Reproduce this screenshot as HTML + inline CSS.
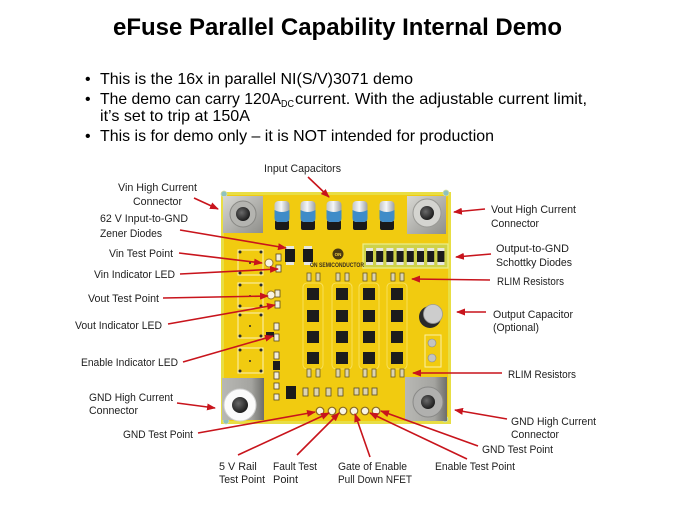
<!DOCTYPE html>
<html>
<head>
<meta charset="utf-8">
<style>
html,body{margin:0;padding:0;background:#fff;}
body{width:675px;height:506px;overflow:hidden;position:relative;}
svg{position:absolute;left:0;top:0;}
.t{font-family:"Liberation Sans",Arial,sans-serif;}
.lb{font-family:"Liberation Sans",Arial,sans-serif;font-size:10.8px;fill:#1e1e1e;}
</style>
</head>
<body>
<svg width="675" height="506" viewBox="0 0 675 506" xmlns="http://www.w3.org/2000/svg">
<defs>
  <marker id="ah" markerUnits="userSpaceOnUse" markerWidth="9" markerHeight="7" refX="8" refY="3.5" orient="auto">
    <path d="M0,0 L9,3.5 L0,7 z" fill="#c8141c"/>
  </marker>
  <linearGradient id="metal" x1="0" y1="0" x2="1" y2="1">
    <stop offset="0" stop-color="#d8d8d4"/>
    <stop offset="1" stop-color="#8e8e8a"/>
  </linearGradient>
  <linearGradient id="metal2" x1="0" y1="0" x2="1" y2="0">
    <stop offset="0" stop-color="#b8b8b4"/>
    <stop offset="0.7" stop-color="#a4a4a0"/>
    <stop offset="1" stop-color="#6e6e6a"/>
  </linearGradient>
  <radialGradient id="hole" cx="0.4" cy="0.4" r="0.6">
    <stop offset="0" stop-color="#6a6a6a"/>
    <stop offset="1" stop-color="#1e1e1e"/>
  </radialGradient>
  <linearGradient id="cap" x1="0" y1="0" x2="1" y2="0">
    <stop offset="0" stop-color="#c0c4c8"/>
    <stop offset="0.45" stop-color="#f4f6f8"/>
    <stop offset="1" stop-color="#9ca0a4"/>
  </linearGradient>
</defs>

<!-- Title -->
<text class="t" x="337.5" y="35" text-anchor="middle" font-size="24" font-weight="bold" fill="#000" textLength="449" lengthAdjust="spacingAndGlyphs">eFuse Parallel Capability Internal Demo</text>

<!-- Bullets -->
<g class="t" font-size="16" fill="#000">
  <text x="85" y="84">•</text>
  <text x="100" y="84" textLength="313" lengthAdjust="spacingAndGlyphs">This is the 16x in parallel NI(S/V)3071 demo</text>
  <text x="85" y="104">•</text>
  <text x="100" y="104" textLength="181" lengthAdjust="spacingAndGlyphs">The demo can carry 120A</text>
  <text x="281" y="107" font-size="10" textLength="13" lengthAdjust="spacingAndGlyphs">DC</text>
  <text x="295" y="104" textLength="292" lengthAdjust="spacingAndGlyphs">current.  With the adjustable current limit,</text>
  <text x="100" y="121" textLength="150" lengthAdjust="spacingAndGlyphs">it’s set to trip at 150A</text>
  <text x="85" y="141">•</text>
  <text x="100" y="141" textLength="394" lengthAdjust="spacingAndGlyphs">This is for demo only – it is NOT intended for production</text>
</g>

<!-- PCB board -->
<rect x="221" y="192" width="230" height="232" fill="#f1cb10"/>
<rect x="222.5" y="193.5" width="227" height="229" fill="none" stroke="#e8de44" stroke-width="3"/>
<!-- corner holes -->
<circle cx="224" cy="194" r="3" fill="#8ec2c0" stroke="#d8e0a0" stroke-width="0.8"/>
<circle cx="446" cy="193" r="3" fill="#8ec2c0" stroke="#d8e0a0" stroke-width="0.8"/>
<circle cx="226" cy="421" r="3" fill="#8ec2c0" stroke="#d8e0a0" stroke-width="0.8"/>
<circle cx="445" cy="419" r="3" fill="#8ec2c0" stroke="#d8e0a0" stroke-width="0.8"/>

<!-- Connectors -->
<rect x="223" y="196" width="40" height="37" fill="url(#metal)"/>
<circle cx="243" cy="214" r="13" fill="#b4b4b0" stroke="#888884" stroke-width="1"/>
<circle cx="243" cy="214" r="7" fill="url(#hole)"/>
<rect x="407" y="196" width="39" height="38" fill="url(#metal)"/>
<circle cx="427" cy="213" r="14" fill="#d4d4d0" stroke="#9a9a96" stroke-width="1"/>
<circle cx="427" cy="213" r="7" fill="url(#hole)"/>
<rect x="222" y="378" width="42" height="42" fill="url(#metal2)"/>
<circle cx="240" cy="405" r="16" fill="#fbfbfb" stroke="#d0d0d0" stroke-width="1"/>
<circle cx="240" cy="405" r="8" fill="url(#hole)"/>
<rect x="405" y="377" width="42" height="44" fill="url(#metal2)"/>
<circle cx="428" cy="402" r="15" fill="#b0b0ae" stroke="#8a8a88" stroke-width="1"/>
<circle cx="428" cy="402" r="7" fill="url(#hole)"/>

<!-- Input capacitors -->
<g>
  <g transform="translate(282,0)">
    <rect x="-7" y="220" width="14" height="10" rx="2" fill="#1a1a1a"/>
    <rect x="-7.5" y="201" width="15" height="21" rx="4" fill="url(#cap)"/>
    <path d="M-7.5,210 Q0,214 7.5,210 L7.5,218 Q7.5,222 3,222 L-3,222 Q-7.5,222 -7.5,218 z" fill="#3f8cc8"/>
  </g>
  <g transform="translate(308,0)">
    <rect x="-7" y="220" width="14" height="10" rx="2" fill="#1a1a1a"/>
    <rect x="-7.5" y="201" width="15" height="21" rx="4" fill="url(#cap)"/>
    <path d="M-7.5,210 Q0,214 7.5,210 L7.5,218 Q7.5,222 3,222 L-3,222 Q-7.5,222 -7.5,218 z" fill="#3f8cc8"/>
  </g>
  <g transform="translate(334,0)">
    <rect x="-7" y="220" width="14" height="10" rx="2" fill="#1a1a1a"/>
    <rect x="-7.5" y="201" width="15" height="21" rx="4" fill="url(#cap)"/>
    <path d="M-7.5,210 Q0,214 7.5,210 L7.5,218 Q7.5,222 3,222 L-3,222 Q-7.5,222 -7.5,218 z" fill="#3f8cc8"/>
  </g>
  <g transform="translate(360,0)">
    <rect x="-7" y="220" width="14" height="10" rx="2" fill="#1a1a1a"/>
    <rect x="-7.5" y="201" width="15" height="21" rx="4" fill="url(#cap)"/>
    <path d="M-7.5,210 Q0,214 7.5,210 L7.5,218 Q7.5,222 3,222 L-3,222 Q-7.5,222 -7.5,218 z" fill="#3f8cc8"/>
  </g>
  <g transform="translate(387,0)">
    <rect x="-7" y="220" width="14" height="10" rx="2" fill="#1a1a1a"/>
    <rect x="-7.5" y="201" width="15" height="21" rx="4" fill="url(#cap)"/>
    <path d="M-7.5,210 Q0,214 7.5,210 L7.5,218 Q7.5,222 3,222 L-3,222 Q-7.5,222 -7.5,218 z" fill="#3f8cc8"/>
  </g>
</g>

<!-- Schottky strip -->
<rect x="363" y="244" width="85" height="24" fill="#cfd248" stroke="#ecef8c" stroke-width="1.2"/>
<g fill="#1c1c1c">
  <rect x="366" y="251" width="7" height="11"/><rect x="376.2" y="251" width="7" height="11"/>
  <rect x="386.4" y="251" width="7" height="11"/><rect x="396.6" y="251" width="7" height="11"/>
  <rect x="406.8" y="251" width="7" height="11"/><rect x="417" y="251" width="7" height="11"/>
  <rect x="427.2" y="251" width="7" height="11"/><rect x="437.4" y="251" width="7" height="11"/>
</g>
<g fill="#e8e8e0">
  <rect x="366" y="248" width="7" height="3"/><rect x="376.2" y="248" width="7" height="3"/>
  <rect x="386.4" y="248" width="7" height="3"/><rect x="396.6" y="248" width="7" height="3"/>
  <rect x="406.8" y="248" width="7" height="3"/><rect x="417" y="248" width="7" height="3"/>
  <rect x="427.2" y="248" width="7" height="3"/><rect x="437.4" y="248" width="7" height="3"/>
  <rect x="366" y="262" width="7" height="3"/><rect x="376.2" y="262" width="7" height="3"/>
  <rect x="386.4" y="262" width="7" height="3"/><rect x="396.6" y="262" width="7" height="3"/>
  <rect x="406.8" y="262" width="7" height="3"/><rect x="417" y="262" width="7" height="3"/>
  <rect x="427.2" y="262" width="7" height="3"/><rect x="437.4" y="262" width="7" height="3"/>
</g>

<!-- Zener diodes -->
<rect x="285" y="249" width="10" height="13" fill="#1a1a1a"/>
<rect x="286" y="246" width="8" height="3" fill="#e8e8e0"/><rect x="286" y="262" width="8" height="3" fill="#e8e8e0"/>
<rect x="303" y="249" width="10" height="13" fill="#1a1a1a"/>
<rect x="304" y="246" width="8" height="3" fill="#e8e8e0"/><rect x="304" y="262" width="8" height="3" fill="#e8e8e0"/>

<!-- ON logo -->
<circle cx="338" cy="254" r="5.5" fill="#4b3a12"/>
<text class="t" x="338" y="256" text-anchor="middle" font-size="4.5" font-weight="bold" fill="#f0d040">ON</text>
<text class="t" x="310" y="267" font-size="6" font-weight="bold" fill="#3a3020" textLength="54" lengthAdjust="spacingAndGlyphs">ON SEMICONDUCTOR</text>

<!-- Left switch squares -->
<g fill="none" stroke="#faf2b8" stroke-width="1">
  <rect x="238" y="250" width="25" height="25"/>
  <rect x="238" y="283" width="25" height="25"/>
  <rect x="238" y="313" width="25" height="25"/>
  <rect x="238" y="348" width="25" height="25"/>
</g>
<g fill="#2a2a2a">
  <circle cx="240" cy="252" r="1.5"/><circle cx="261" cy="252" r="1.5"/><circle cx="240" cy="273" r="1.5"/><circle cx="261" cy="273" r="1.5"/><circle cx="250" cy="263" r="1"/>
  <circle cx="240" cy="285" r="1.5"/><circle cx="261" cy="285" r="1.5"/><circle cx="240" cy="306" r="1.5"/><circle cx="261" cy="306" r="1.5"/><circle cx="250" cy="296" r="1"/>
  <circle cx="240" cy="315" r="1.5"/><circle cx="261" cy="315" r="1.5"/><circle cx="240" cy="336" r="1.5"/><circle cx="261" cy="336" r="1.5"/><circle cx="250" cy="326" r="1"/>
  <circle cx="240" cy="350" r="1.5"/><circle cx="261" cy="350" r="1.5"/><circle cx="240" cy="371" r="1.5"/><circle cx="261" cy="371" r="1.5"/><circle cx="250" cy="361" r="1"/>
</g>

<!-- Left small parts -->
<g fill="#f2eedc" stroke="#5a4a20" stroke-width="0.8">
  <rect x="276" y="254" width="5" height="7"/><rect x="276" y="265" width="5" height="7"/>
  <rect x="275" y="290" width="5" height="7"/><rect x="275" y="301" width="5" height="7"/>
  <rect x="274" y="323" width="5" height="7"/><rect x="274" y="334" width="5" height="7"/>
  <rect x="274" y="352" width="5" height="7"/><rect x="274" y="372" width="5" height="7"/>
  <rect x="274" y="383" width="5" height="6"/><rect x="274" y="394" width="5" height="6"/>
</g>
<rect x="273" y="361" width="7" height="9" fill="#1c1c1c"/>
<rect x="266" y="332" width="8" height="5" fill="#1c1c1c"/>
<circle cx="269" cy="263" r="4" fill="#f8f4e4" stroke="#9a7a28" stroke-width="1"/>
<circle cx="271" cy="295" r="4" fill="#f8f4e4" stroke="#9a7a28" stroke-width="1"/>

<!-- chip group outlines -->
<g fill="none" stroke="#f8e46a" stroke-width="0.8">
  <rect x="303" y="283" width="20" height="86" rx="4"/>
  <rect x="332" y="283" width="20" height="86" rx="4"/>
  <rect x="359" y="283" width="20" height="86" rx="4"/>
  <rect x="387" y="283" width="20" height="86" rx="4"/>
</g>

<!-- Chips 4x4 -->
<g fill="#1c1c1c">
  <rect x="307" y="288" width="12" height="12"/><rect x="336" y="288" width="12" height="12"/><rect x="363" y="288" width="12" height="12"/><rect x="391" y="288" width="12" height="12"/>
  <rect x="307" y="310" width="12" height="12"/><rect x="336" y="310" width="12" height="12"/><rect x="363" y="310" width="12" height="12"/><rect x="391" y="310" width="12" height="12"/>
  <rect x="307" y="331" width="12" height="12"/><rect x="336" y="331" width="12" height="12"/><rect x="363" y="331" width="12" height="12"/><rect x="391" y="331" width="12" height="12"/>
  <rect x="307" y="352" width="12" height="12"/><rect x="336" y="352" width="12" height="12"/><rect x="363" y="352" width="12" height="12"/><rect x="391" y="352" width="12" height="12"/>
</g>

<!-- RLIM resistors -->
<g fill="#ddd4b0" stroke="#6a5a20" stroke-width="0.8">
  <rect x="307" y="273" width="4" height="8"/><rect x="316" y="273" width="4" height="8"/>
  <rect x="336" y="273" width="4" height="8"/><rect x="345" y="273" width="4" height="8"/>
  <rect x="363" y="273" width="4" height="8"/><rect x="372" y="273" width="4" height="8"/>
  <rect x="391" y="273" width="4" height="8"/><rect x="400" y="273" width="4" height="8"/>
  <rect x="307" y="369" width="4" height="8"/><rect x="316" y="369" width="4" height="8"/>
  <rect x="336" y="369" width="4" height="8"/><rect x="345" y="369" width="4" height="8"/>
  <rect x="363" y="369" width="4" height="8"/><rect x="372" y="369" width="4" height="8"/>
  <rect x="391" y="369" width="4" height="8"/><rect x="400" y="369" width="4" height="8"/>
</g>

<!-- Output capacitor -->
<circle cx="430" cy="317" r="11" fill="#2a2a2a"/>
<circle cx="433" cy="314" r="9.5" fill="#cdcdcd" stroke="#9a9a9a" stroke-width="0.8"/>
<rect x="425" y="335" width="16" height="32" fill="none" stroke="#faf0a8" stroke-width="1"/>
<circle cx="432" cy="343" r="4" fill="#c4c4c0" stroke="#888" stroke-width="0.6"/>
<circle cx="432" cy="358" r="4" fill="#c4c4c0" stroke="#888" stroke-width="0.6"/>

<!-- Bottom parts -->
<rect x="286" y="386" width="10" height="13" fill="#1a1a1a"/>
<g fill="#ddd4b0" stroke="#5a4a20" stroke-width="0.8">
  <rect x="303" y="388" width="5" height="8"/><rect x="314" y="388" width="5" height="8"/>
  <rect x="326" y="388" width="5" height="8"/><rect x="338" y="388" width="5" height="8"/>
  <rect x="354" y="388" width="5" height="7"/><rect x="363" y="388" width="5" height="7"/>
  <rect x="372" y="388" width="5" height="7"/>
</g>

<!-- Bottom test points -->
<g fill="#f8f4e4" stroke="#8a6a20" stroke-width="1.2">
  <circle cx="320" cy="411" r="3.8"/><circle cx="332" cy="411" r="3.8"/><circle cx="343" cy="411" r="3.8"/>
  <circle cx="354" cy="411" r="3.8"/><circle cx="365" cy="411" r="3.8"/><circle cx="376" cy="411" r="3.8"/>
</g>

<!-- Arrows -->
<g stroke="#c8141c" stroke-width="1.6" fill="none" marker-end="url(#ah)">
  <line x1="194" y1="198" x2="218" y2="209"/>
  <line x1="180" y1="230" x2="286" y2="248"/>
  <line x1="179" y1="253" x2="262" y2="263"/>
  <line x1="180" y1="274" x2="278" y2="269"/>
  <line x1="163" y1="298" x2="268" y2="296"/>
  <line x1="168" y1="324" x2="275" y2="305"/>
  <line x1="183" y1="362" x2="273" y2="336"/>
  <line x1="177" y1="403" x2="215" y2="408"/>
  <line x1="198" y1="433" x2="315" y2="412"/>
  <line x1="238" y1="455" x2="329" y2="413"/>
  <line x1="297" y1="455" x2="339" y2="413"/>
  <line x1="370" y1="457" x2="355" y2="414"/>
  <line x1="467" y1="459" x2="370" y2="413"/>
  <line x1="478" y1="446" x2="381" y2="411"/>
  <line x1="507" y1="419" x2="455" y2="410"/>
  <line x1="502" y1="373" x2="413" y2="373"/>
  <line x1="486" y1="312" x2="457" y2="312"/>
  <line x1="490" y1="280" x2="412" y2="279"/>
  <line x1="491" y1="254" x2="456" y2="257"/>
  <line x1="485" y1="209" x2="454" y2="212"/>
  <line x1="308" y1="177" x2="329" y2="197"/>
</g>

<!-- Labels -->
<g class="lb">
  <text x="264" y="172" textLength="77" lengthAdjust="spacingAndGlyphs">Input Capacitors</text>

  <text x="118" y="191" textLength="79" lengthAdjust="spacingAndGlyphs">Vin High Current</text>
  <text x="133" y="205" textLength="49" lengthAdjust="spacingAndGlyphs">Connector</text>
  <text x="100" y="222" textLength="88" lengthAdjust="spacingAndGlyphs">62 V Input-to-GND</text>
  <text x="100" y="237" textLength="62" lengthAdjust="spacingAndGlyphs">Zener Diodes</text>
  <text x="109" y="257" textLength="64" lengthAdjust="spacingAndGlyphs">Vin Test Point</text>
  <text x="94" y="278" textLength="81" lengthAdjust="spacingAndGlyphs">Vin Indicator LED</text>
  <text x="88" y="302" textLength="71" lengthAdjust="spacingAndGlyphs">Vout Test Point</text>
  <text x="75" y="329" textLength="87" lengthAdjust="spacingAndGlyphs">Vout Indicator LED</text>
  <text x="81" y="366" textLength="97" lengthAdjust="spacingAndGlyphs">Enable Indicator LED</text>
  <text x="89" y="401" textLength="84" lengthAdjust="spacingAndGlyphs">GND High Current</text>
  <text x="89" y="414" textLength="49" lengthAdjust="spacingAndGlyphs">Connector</text>
  <text x="123" y="438" textLength="70" lengthAdjust="spacingAndGlyphs">GND Test Point</text>

  <text x="219" y="470">5 V Rail</text>
  <text x="219" y="483" textLength="46" lengthAdjust="spacingAndGlyphs">Test Point</text>
  <text x="273" y="470" textLength="44" lengthAdjust="spacingAndGlyphs">Fault Test</text>
  <text x="273" y="483" textLength="25" lengthAdjust="spacingAndGlyphs">Point</text>
  <text x="338" y="470" textLength="69" lengthAdjust="spacingAndGlyphs">Gate of Enable</text>
  <text x="338" y="483" textLength="74" lengthAdjust="spacingAndGlyphs">Pull Down NFET</text>
  <text x="435" y="470" textLength="80" lengthAdjust="spacingAndGlyphs">Enable Test Point</text>

  <text x="482" y="453" textLength="71" lengthAdjust="spacingAndGlyphs">GND Test Point</text>
  <text x="511" y="425" textLength="85" lengthAdjust="spacingAndGlyphs">GND High Current</text>
  <text x="511" y="438" textLength="48" lengthAdjust="spacingAndGlyphs">Connector</text>
  <text x="508" y="378" textLength="68" lengthAdjust="spacingAndGlyphs">RLIM Resistors</text>
  <text x="493" y="318" textLength="80" lengthAdjust="spacingAndGlyphs">Output Capacitor</text>
  <text x="493" y="331" textLength="46" lengthAdjust="spacingAndGlyphs">(Optional)</text>
  <text x="497" y="285" textLength="67" lengthAdjust="spacingAndGlyphs">RLIM Resistors</text>
  <text x="496" y="252" textLength="73" lengthAdjust="spacingAndGlyphs">Output-to-GND</text>
  <text x="496" y="266" textLength="76" lengthAdjust="spacingAndGlyphs">Schottky Diodes</text>
  <text x="491" y="213" textLength="85" lengthAdjust="spacingAndGlyphs">Vout High Current</text>
  <text x="491" y="227" textLength="48" lengthAdjust="spacingAndGlyphs">Connector</text>
</g>
</svg>
</body>
</html>
